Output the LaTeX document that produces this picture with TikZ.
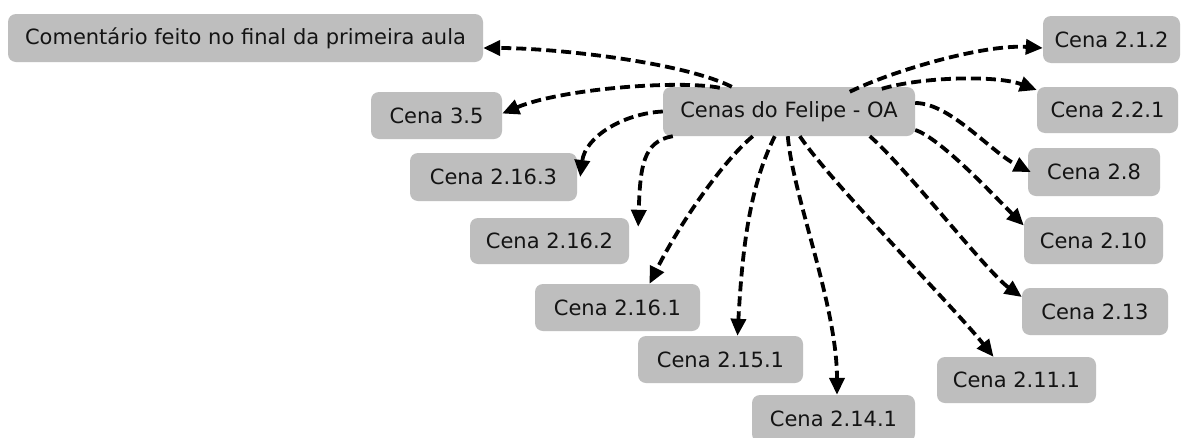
\documentclass[tikz,border=0pt]{standalone}
\usepackage{fontspec}
\setmainfont{DejaVu Sans}
\usetikzlibrary{arrows.meta,calc}
\definecolor{boxgray}{RGB}{190,190,190}
\definecolor{txt}{RGB}{20,20,20}
\tikzset{
  box/.style={fill=boxgray, rounded corners=8pt, text=txt, inner sep=0pt,
    font=\fontsize{21}{25}\selectfont, align=center},
  link/.style={line width=3.8pt, dash pattern=on 10pt off 5pt, black,
    -{Triangle[length=17pt,width=15pt]}}
}
\begin{document}
\begin{tikzpicture}[x=1pt,y=-1pt]
\clip (0,0) rectangle (1184,437);
\useasboundingbox (0,0) rectangle (1184,437);
\fill[white] (0,0) rectangle (1184,437);
% nodes
\node[box, minimum width=252pt, minimum height=49pt] (main) at (789,111.5) {Cenas do Felipe - OA};
\node[box, minimum width=475pt, minimum height=48pt] (com) at (245.5,38) {Comentário feito no final da primeira aula};
\node[box, minimum width=137pt, minimum height=47pt] (c212) at (1111.5,39.5) {Cena 2.1.2};
\node[box, minimum width=141pt, minimum height=46pt] (c221) at (1107.5,110) {Cena 2.2.1};
\node[box, minimum width=132pt, minimum height=48pt] (c28) at (1094,172) {Cena 2.8};
\node[box, minimum width=139pt, minimum height=47pt] (c210) at (1093.5,240.5) {Cena 2.10};
\node[box, minimum width=146pt, minimum height=47pt] (c213) at (1095,311.5) {Cena 2.13};
\node[box, minimum width=159pt, minimum height=46pt] (c2111) at (1016.5,380) {Cena 2.11.1};
\node[box, minimum width=163pt, minimum height=47pt] (c2141) at (833.5,418.5) {Cena 2.14.1};
\node[box, minimum width=165pt, minimum height=47pt] (c2151) at (720.5,359.5) {Cena 2.15.1};
\node[box, minimum width=165pt, minimum height=47pt] (c2161) at (617.5,307.5) {Cena 2.16.1};
\node[box, minimum width=159pt, minimum height=46pt] (c2162) at (549.5,241) {Cena 2.16.2};
\node[box, minimum width=167pt, minimum height=48pt] (c2163) at (493.5,177) {Cena 2.16.3};
\node[box, minimum width=131pt, minimum height=47pt] (c35) at (436.5,115.5) {Cena 3.5};
% connectors
\draw[link] ([xshift=69pt]main.north west) .. controls +(-50,-25) and +(70,0) .. ([yshift=-10pt]com.east);
\draw[link] ([xshift=57pt,yshift=-1pt]main.north west) .. controls +(-40,-8) and +(60,-25) .. ([yshift=2pt]c35.east);
\draw[link] (main.west) .. controls +(-40,2) and +(5,-40) .. ([xshift=3pt]c2163.east);
\draw[link] ([xshift=10pt]main.south west) .. controls +(-30,5) and +(2,-60) .. ([xshift=9pt,yshift=-9pt]c2162.north east);
\draw[link] ([xshift=90pt]main.south west) .. controls +(-30,25) and +(30,-60) .. ([xshift=32pt]c2161.north);
\draw[link] ([xshift=112pt]main.south west) .. controls +(-25,50) and +(5,-90) .. ([xshift=17pt]c2151.north);
\draw[link] ([xshift=125pt]main.south west) .. controls +(5,60) and +(0,-90) .. ([xshift=3.5pt]c2141.north);
\draw[link] ([xshift=137pt]main.south west) .. controls +(30,45) and +(-40,-50) .. ([xshift=-23pt]c2111.north);
\draw[link] ([xshift=207pt]main.south west) .. controls +(35,30) and +(-35,-25) .. ([yshift=14.5pt]c213.west);
\draw[link] ([yshift=-18.5pt]main.east) .. controls +(25,8) and +(-30,-30) .. ([yshift=15pt]c210.west);
\draw[link] ([yshift=8.5pt]main.east) .. controls +(35,0) and +(-40,-20) .. ([xshift=3pt]c28.west);
\draw[link] ([xshift=219pt,yshift=-2pt]main.north west) .. controls +(40,-12) and +(-40,-15) .. ([yshift=20pt]c221.west);
\draw[link] ([xshift=187pt,yshift=-5pt]main.north west) .. controls +(40,-20) and +(-60,-4) .. ([yshift=-8.5pt]c212.west);
\end{tikzpicture}
\end{document}
